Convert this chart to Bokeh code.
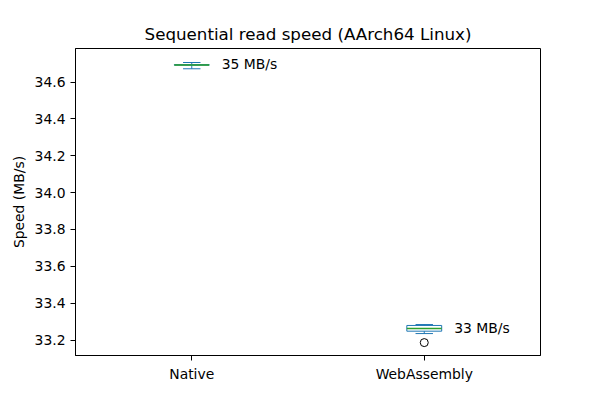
from bokeh.plotting import figure
from bokeh.models import Range1d, FixedTicker, ColumnDataSource, PrintfTickFormatter
from bokeh.core.properties import value
from bokeh.embed import file_html
from bokeh.resources import INLINE

categories = ["Native", "WebAssembly"]
positions = [1, 2]
whisker_low = [34.672, 33.235]
q1 = [34.6915, 33.248]
median = [34.693, 33.262]
q3 = [34.6945, 33.279]
whisker_high = [34.706, 33.284]
outlier_pos = [2]
outlier_val = [33.186]
label_texts = ["35 MB/s", "33 MB/s"]
y_ticks = [33.2, 33.4, 33.6, 33.8, 34.0, 34.2, 34.4, 34.6]

FONT = "DejaVu Sans"
BLUE = "#1f77b4"
GREEN = "#2ca02c"
box_w = 0.15
cap_w = 0.075

p = figure(width=600, height=400, output_backend="svg", toolbar_location=None,
           x_range=Range1d(0.5, 2.5), y_range=Range1d(33.116, 34.782),
           min_border_left=75, min_border_right=60, min_border_top=48, min_border_bottom=45,
           title="Sequential read speed (AArch64 Linux)")
p.title.align = "center"
p.title.text_font = FONT
p.title.text_font_size = "16.7px"
p.title.text_font_style = "normal"
p.title.text_color = "black"

p.xgrid.visible = False
p.ygrid.visible = False
p.outline_line_color = "black"
p.outline_line_width = 1
p.outline_line_alpha = 1
p.background_fill_color = "white"
p.border_fill_color = "white"

for ax in (p.xaxis[0], p.yaxis[0]):
    ax.major_label_text_font = FONT
    ax.major_label_text_font_size = "13.9px"
    ax.major_label_text_color = "black"
    ax.axis_line_color = "black"
    ax.major_tick_line_color = "black"
    ax.major_tick_out = 5
    ax.major_tick_in = 0
    ax.minor_tick_line_color = None

p.xaxis.ticker = FixedTicker(ticks=positions)
p.xaxis.major_label_overrides = {pos: c for pos, c in zip(positions, categories)}
p.yaxis.ticker = FixedTicker(ticks=y_ticks)
p.yaxis.formatter = PrintfTickFormatter(format="%.1f")
p.yaxis.axis_label = "Speed (MB/s)"
p.yaxis.axis_label_text_font = FONT
p.yaxis.axis_label_text_font_size = "13.9px"
p.yaxis.axis_label_text_font_style = "normal"
p.yaxis.axis_label_text_color = "black"

src = ColumnDataSource(dict(
    x=positions, lo=whisker_low, q1=q1, med=median, q3=q3, hi=whisker_high,
    left=[x - box_w / 2 for x in positions], right=[x + box_w / 2 for x in positions],
    cl=[x - cap_w / 2 for x in positions], cr=[x + cap_w / 2 for x in positions],
    label=label_texts,
))

p.segment(x0="x", y0="lo", x1="x", y1="q1", source=src, line_color=BLUE, line_width=1)
p.segment(x0="x", y0="q3", x1="x", y1="hi", source=src, line_color=BLUE, line_width=1)
p.segment(x0="cl", y0="lo", x1="cr", y1="lo", source=src, line_color=BLUE, line_width=1)
p.segment(x0="cl", y0="hi", x1="cr", y1="hi", source=src, line_color=BLUE, line_width=1)
p.quad(left="left", right="right", bottom="q1", top="q3", source=src,
       fill_color=None, line_color=BLUE, line_width=1)
p.segment(x0="left", y0="med", x1="right", y1="med", source=src, line_color=GREEN, line_width=1.5)
p.scatter(x=outlier_pos, y=outlier_val, marker="circle", size=8,
          fill_color=None, line_color="black", line_width=1)
p.text(x="x", y="med", text="label", source=src, x_offset=30, y_offset=-1,
       text_baseline="middle",
       text_font=value(FONT), text_font_size="13.9px", text_color="black")

open("out.html", "w").write(file_html(p, INLINE))
